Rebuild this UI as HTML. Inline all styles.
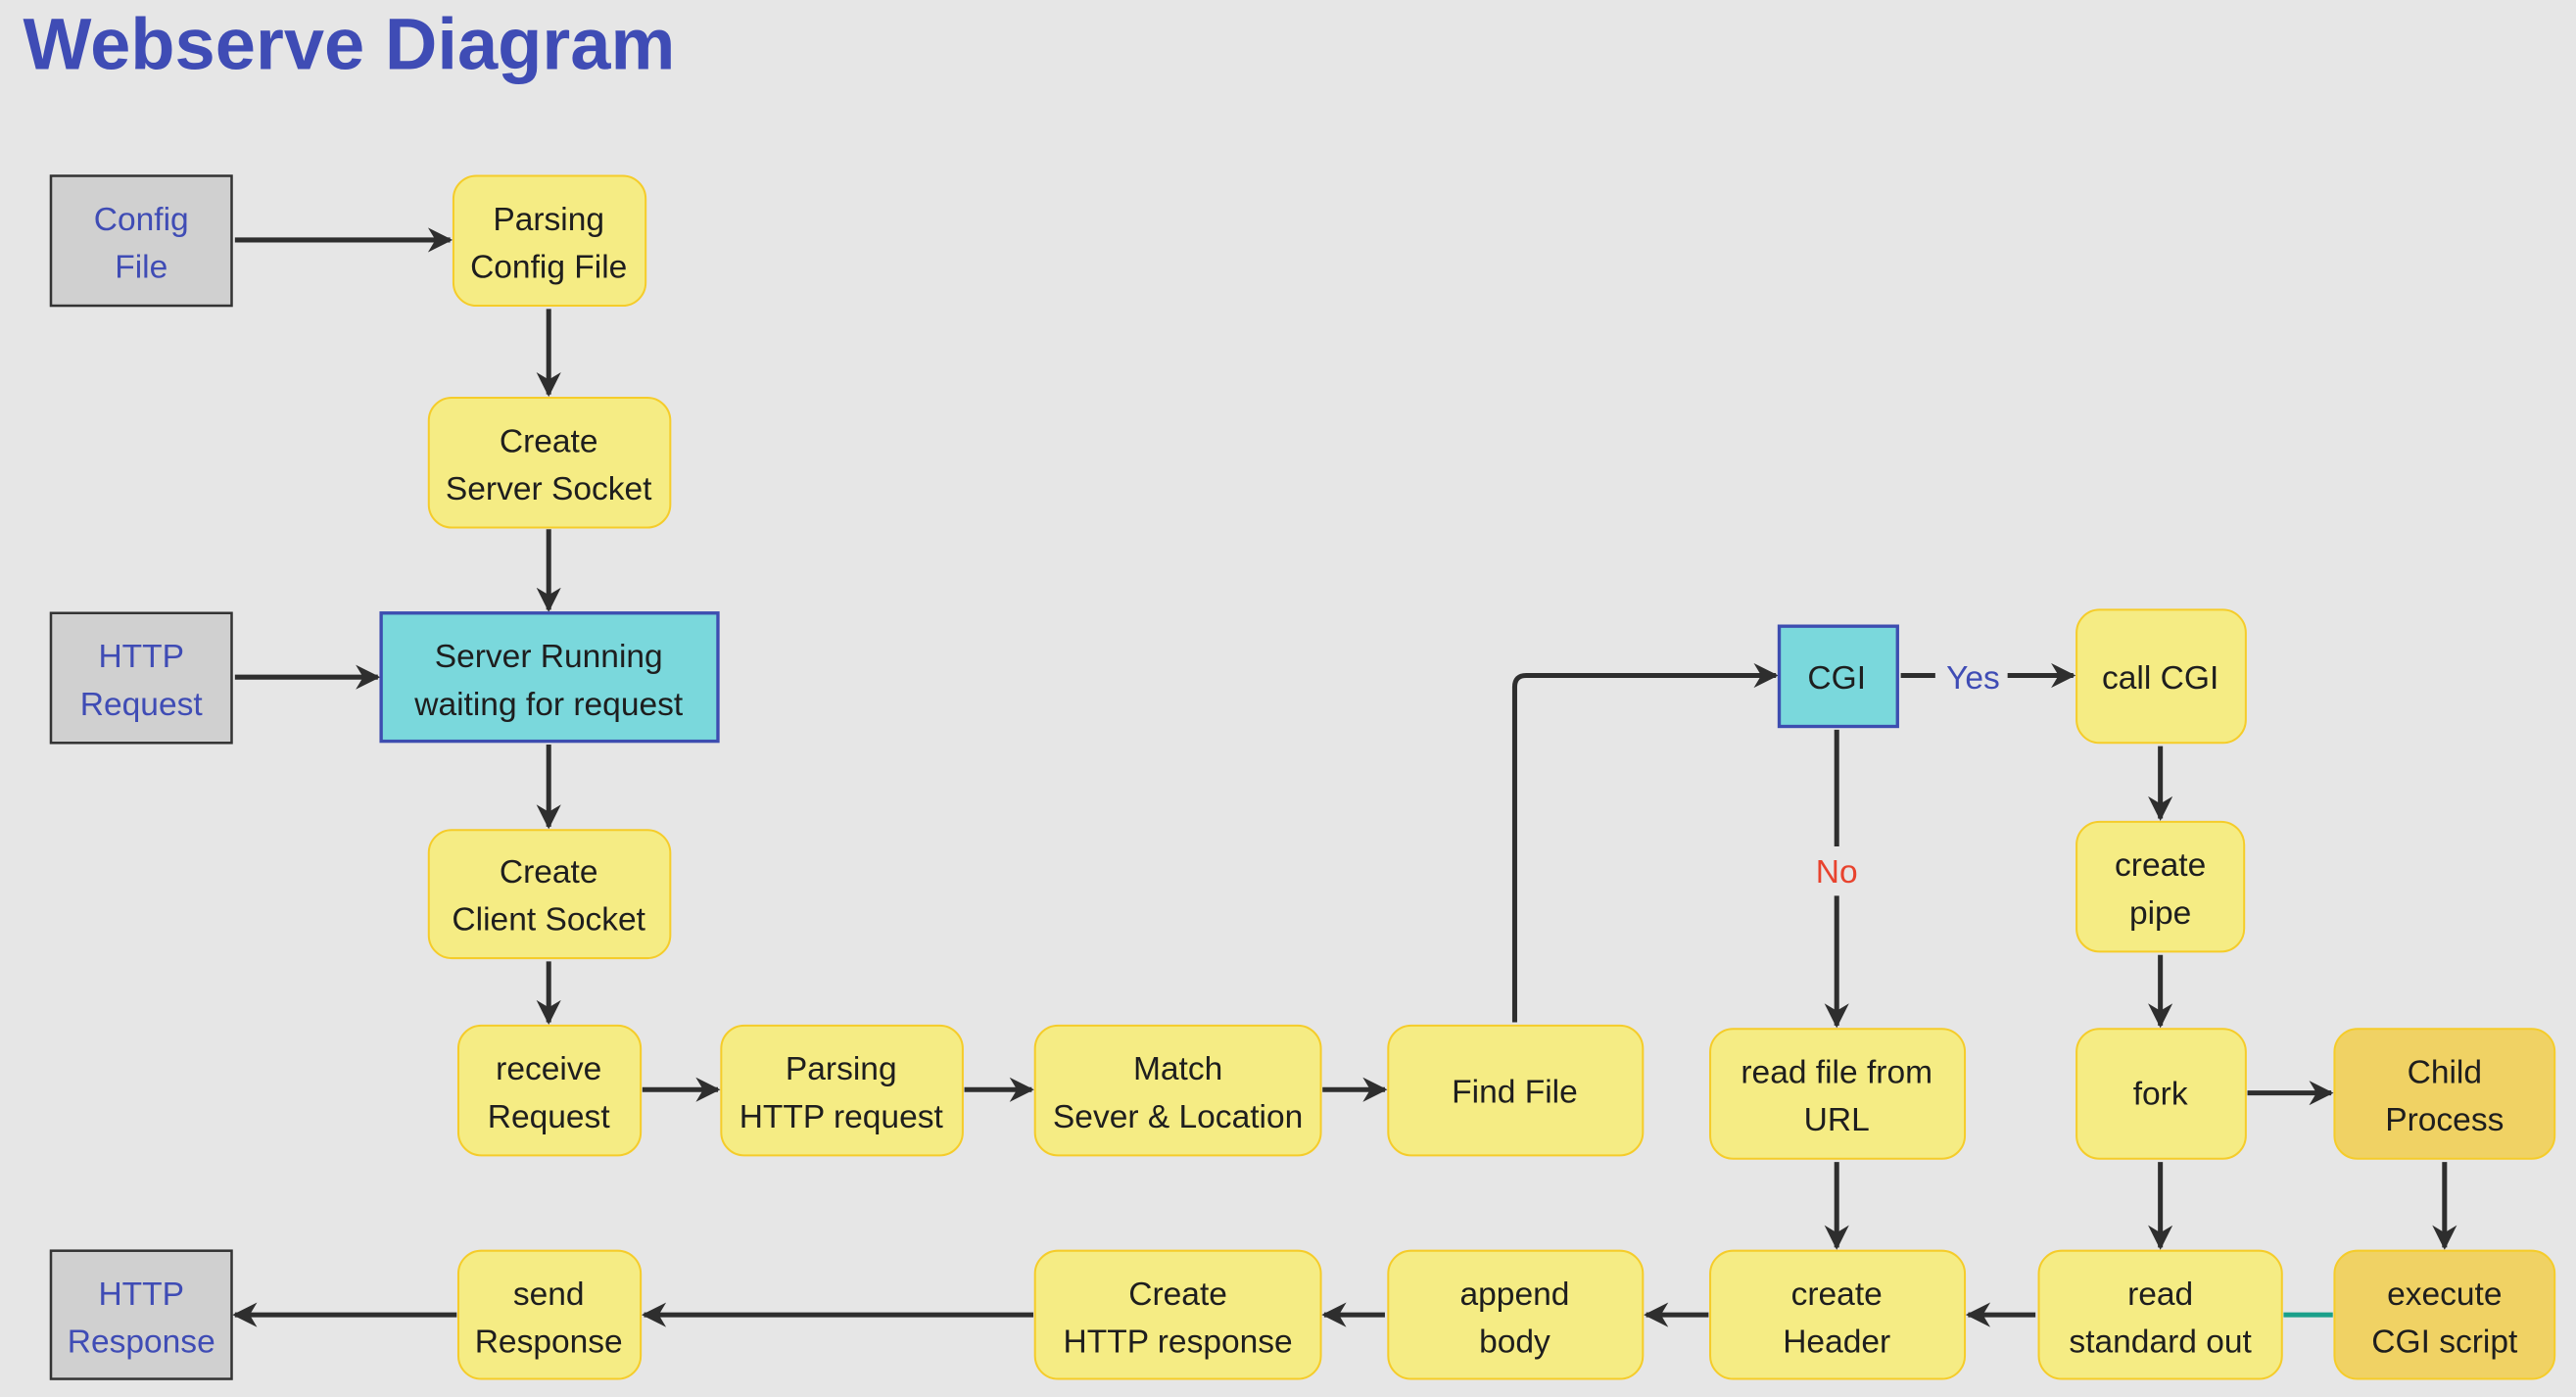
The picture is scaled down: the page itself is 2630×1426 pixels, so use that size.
<!DOCTYPE html>
<html><head><meta charset="utf-8"><style>
html,body{margin:0;padding:0;background:#e6e6e6;}
svg{display:block;}
text{font-family:"Liberation Sans",sans-serif;}
</style></head><body>
<svg width="2630" height="1426" viewBox="0 0 1568 850" preserveAspectRatio="none" xmlns="http://www.w3.org/2000/svg">
<defs>
<marker id="a" viewBox="0 0 10 10" refX="9" refY="5" markerWidth="5" markerHeight="5" orient="auto" markerUnits="strokeWidth">
<path d="M0,0 L10,5 L0,10 L3,5 z" fill="#2e2e2e"/></marker>
</defs>
<rect width="1568" height="850" fill="#e6e6e6"/>
<text x="14" y="42" font-size="44" font-weight="bold" fill="#3f4cb5" textLength="397" lengthAdjust="spacingAndGlyphs">Webserve Diagram</text>

<g stroke="#2e2e2e" stroke-width="3" fill="none" marker-end="url(#a)">
<line x1="143" y1="146" x2="274" y2="146"/>
<line x1="334" y1="188" x2="334" y2="240"/>
<line x1="334" y1="322" x2="334" y2="371"/>
<line x1="143" y1="412" x2="230" y2="412"/>
<line x1="334" y1="453" x2="334" y2="503"/>
<line x1="334" y1="585" x2="334" y2="622"/>
<line x1="391" y1="663" x2="437" y2="663"/>
<line x1="587" y1="663" x2="628" y2="663"/>
<line x1="805" y1="663" x2="843" y2="663"/>
<path d="M922 622 V418 Q922 411 929 411 H1081"/>
<line x1="1222" y1="411" x2="1262" y2="411"/>
<line x1="1118" y1="545" x2="1118" y2="624"/>
<line x1="1315" y1="454" x2="1315" y2="498"/>
<line x1="1315" y1="581" x2="1315" y2="624"/>
<line x1="1368" y1="665" x2="1419" y2="665"/>
<line x1="1315" y1="707" x2="1315" y2="759"/>
<line x1="1488" y1="707" x2="1488" y2="759"/>
<line x1="1118" y1="707" x2="1118" y2="759"/>
<line x1="1239" y1="800" x2="1198" y2="800"/>
<line x1="1040" y1="800" x2="1002" y2="800"/>
<line x1="843" y1="800" x2="806" y2="800"/>
<line x1="629" y1="800" x2="392" y2="800"/>
<line x1="278" y1="800" x2="143" y2="800"/>
</g>
<g stroke="#2e2e2e" stroke-width="3">
<line x1="1157" y1="411" x2="1178" y2="411"/>
<line x1="1118" y1="444" x2="1118" y2="515"/>
</g>
<line x1="1390" y1="800" x2="1420" y2="800" stroke="#1aa08a" stroke-width="3"/>

<g stroke="#333" stroke-width="1.5" fill="#d0d0d0">
<rect x="31" y="107" width="110" height="79"/>
<rect x="31" y="373" width="110" height="79"/>
<rect x="31" y="761" width="110" height="78"/>
</g>
<g stroke="#3d4db0" stroke-width="2" fill="#7ad8dc">
<rect x="232" y="373" width="205" height="78"/>
<rect x="1083" y="381" width="72" height="61"/>
</g>
<g stroke="#f5cc2a" stroke-width="1.2" fill="#f5ec84">
<rect x="276" y="107" width="117" height="79" rx="14"/>
<rect x="261" y="242" width="147" height="79" rx="14"/>
<rect x="261" y="505" width="147" height="78" rx="14"/>
<rect x="279" y="624" width="111" height="79" rx="14"/>
<rect x="439" y="624" width="147" height="79" rx="14"/>
<rect x="630" y="624" width="174" height="79" rx="14"/>
<rect x="845" y="624" width="155" height="79" rx="14"/>
<rect x="1041" y="626" width="155" height="79" rx="14"/>
<rect x="1264" y="626" width="103" height="79" rx="14"/>
<rect x="1264" y="371" width="103" height="81" rx="14"/>
<rect x="1264" y="500" width="102" height="79" rx="14"/>
<rect x="279" y="761" width="111" height="78" rx="14"/>
<rect x="630" y="761" width="174" height="78" rx="14"/>
<rect x="845" y="761" width="155" height="78" rx="14"/>
<rect x="1041" y="761" width="155" height="78" rx="14"/>
<rect x="1241" y="761" width="148" height="78" rx="14"/>
</g>
<g stroke="#f5cc2a" stroke-width="1.2" fill="#f0d264">
<rect x="1421" y="626" width="134" height="79" rx="14"/>
<rect x="1421" y="761" width="134" height="78" rx="14"/>
</g>

<g font-size="20" text-anchor="middle" fill="#3f4cb5">
<text x="86" y="140">Config</text><text x="86" y="169">File</text>
<text x="86" y="406">HTTP</text><text x="86" y="435">Request</text>
<text x="86" y="794">HTTP</text><text x="86" y="823">Response</text>
<text x="1201" y="419">Yes</text>
</g>
<text x="1118" y="537" font-size="20" text-anchor="middle" fill="#e8432e">No</text>
<g font-size="20" text-anchor="middle" fill="#1e1e1e">
<text x="334" y="140">Parsing</text><text x="334" y="169">Config File</text>
<text x="334" y="275">Create</text><text x="334" y="304">Server Socket</text>
<text x="334" y="406">Server Running</text><text x="334" y="435">waiting for request</text>
<text x="334" y="537">Create</text><text x="334" y="566">Client Socket</text>
<text x="334" y="657">receive</text><text x="334" y="686">Request</text>
<text x="512" y="657">Parsing</text><text x="512" y="686">HTTP request</text>
<text x="717" y="657">Match</text><text x="717" y="686">Sever &amp; Location</text>
<text x="922" y="671">Find File</text>
<text x="1118" y="659">read file from</text><text x="1118" y="688">URL</text>
<text x="1315" y="672">fork</text>
<text x="1488" y="659">Child</text><text x="1488" y="688">Process</text>
<text x="1118" y="419">CGI</text>
<text x="1315" y="419">call CGI</text>
<text x="1315" y="533">create</text><text x="1315" y="562">pipe</text>
<text x="334" y="794">send</text><text x="334" y="823">Response</text>
<text x="717" y="794">Create</text><text x="717" y="823">HTTP response</text>
<text x="922" y="794">append</text><text x="922" y="823">body</text>
<text x="1118" y="794">create</text><text x="1118" y="823">Header</text>
<text x="1315" y="794">read</text><text x="1315" y="823">standard out</text>
<text x="1488" y="794">execute</text><text x="1488" y="823">CGI script</text>
</g>
</svg>
</body></html>
